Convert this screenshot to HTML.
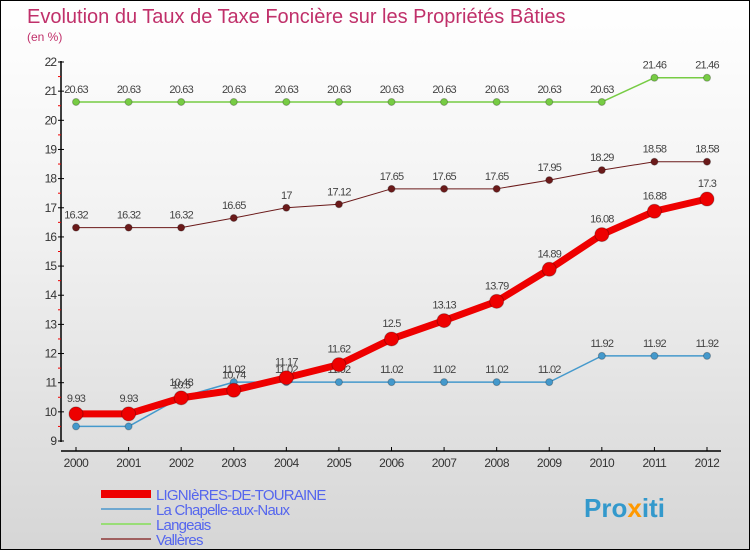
<!DOCTYPE html>
<html><head><meta charset="utf-8"><style>
body{margin:0}
#c{position:relative;width:748px;height:548px;border:1px solid #000;background:linear-gradient(#ffffff,#f2f2f2 40%,#d6d6d6);font-family:"Liberation Sans",sans-serif;overflow:hidden}
</style></head><body>
<div id="c">
<svg width="748" height="548" id="s"></svg>
</div>
<script>
const years=["2000","2001","2002","2003","2004","2005","2006","2007","2008","2009","2010","2011","2012"];
const ligni=[9.93,9.93,10.48,10.74,11.17,11.62,12.5,13.13,13.79,14.89,16.08,16.88,17.3];
const chap=[9.5,9.5,10.5,11.02,11.02,11.02,11.02,11.02,11.02,11.02,11.92,11.92,11.92];
const lang=[20.63,20.63,20.63,20.63,20.63,20.63,20.63,20.63,20.63,20.63,20.63,21.46,21.46];
const vall=[16.32,16.32,16.32,16.65,17,17.12,17.65,17.65,17.65,17.95,18.29,18.58,18.58];
const yTicks=[9,10,11,12,13,14,15,16,17,18,19,20,21,22];
const s=document.getElementById('s');const NS='http://www.w3.org/2000/svg';
function X(i){return 75+i*(706-75)/12}
function Y(v){return 440-(v-9)*(440-61)/13}
function el(t,a,p){const e=document.createElementNS(NS,t);for(const k in a)e.setAttribute(k,a[k]);(p||s).appendChild(e);return e}
let t=el('text',{x:26,y:22,'font-size':20,fill:'#c0306a'});t.textContent='Evolution du Taux de Taxe Foncière sur les Propriétés Bâties';

t=el('text',{x:26,y:40,'font-size':12,fill:'#c0306a'});t.textContent='(en %)';

el('line',{x1:60,y1:60,x2:60,y2:441,stroke:'#000','stroke-width':1.5});
el('line',{x1:60,y1:450,x2:720,y2:450,stroke:'#000','stroke-width':1.5});
yTicks.forEach(v=>{el('line',{x1:57,x2:63,y1:Y(v),y2:Y(v),stroke:'#000'});
 if(v<22){el('line',{x1:57,x2:60,y1:Y(v+0.5),y2:Y(v+0.5),stroke:'#e00'});}
 const tt=el('text',{x:55,y:Y(v)+4,'font-size':12,fill:'#333','text-anchor':'end','letter-spacing':-1});tt.textContent=v;
 });
years.forEach((y,i)=>{el('line',{x1:X(i),x2:X(i),y1:446,y2:450,stroke:'#000'});
 const tt=el('text',{x:X(i),y:466,'font-size':12,fill:'#333','text-anchor':'middle','letter-spacing':-0.5});tt.textContent=y;
 });
function series(d,col,w,r,name,lab){
 const g=el('g',{});
 el('polyline',{points:d.map((v,i)=>X(i)+','+Y(v)).join(' '),fill:'none',stroke:col,'stroke-width':w,'stroke-linejoin':'round'},g);
 d.forEach((v,i)=>{const c=el('circle',{cx:X(i),cy:Y(v),r:r,fill:col,stroke:'rgba(0,0,0,0.25)'},g);
  
  if(lab){const tt=el('text',{x:X(i),y:Y(v)-9-(r>5?3:0),'font-size':11,fill:'#444','text-anchor':'middle','letter-spacing':-0.8},g);tt.textContent=v;}});
}
series(lang,'#77cc44',1.5,3.5,'langeais',true);
series(vall,'#6b1a1a',1,3.5,'valleres',true);
series(chap,'#4499cc',1.5,3.5,'la-chapelle',true);
series(ligni,'#ee0000',7,7,'lignieres',true);
const leg=[['LIGNIèRES-DE-TOURAINE','#ee0000',8],['La Chapelle-aux-Naux','#6fa8d0',2],['Langeais','#99dd77',2],['Vallères','#a06060',2]];
leg.forEach((l,i)=>{const y=493+i*15;const g=el('g',{});
 el('line',{x1:100,x2:150,y1:y,y2:y,stroke:l[1],'stroke-width':l[2]},g);
 const tt=el('text',{x:155,y:y+6,'font-size':15,fill:'#5566ee','letter-spacing':-0.8},g);tt.textContent=l[0];});
t=el('text',{x:583,y:516,'font-size':26,'font-weight':'bold',fill:'#3399cc'});t.innerHTML='Pro<tspan fill="#ff9900">x</tspan>iti';

</script>
</body></html>
